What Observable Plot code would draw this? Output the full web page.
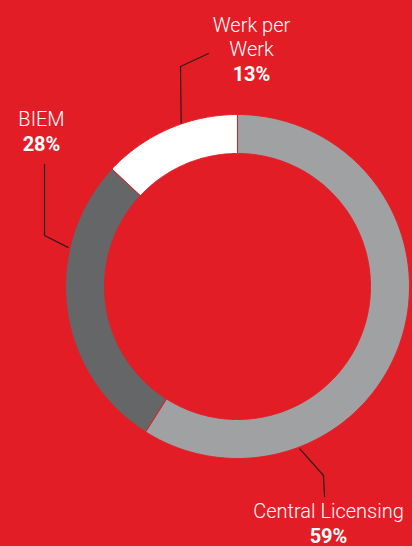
<!DOCTYPE html>
<html>
<head>
<meta charset="utf-8">
<script src="https://cdn.jsdelivr.net/npm/d3@7"></script>
<script src="https://cdn.jsdelivr.net/npm/@observablehq/plot@0.6"></script>
<style>
  html, body { margin: 0; padding: 0; background: #e31d25; }
  #chart svg { display: block; }
</style>
</head>
<body>
<div id="chart"></div>
<script>
// Data
const categories = ["Central Licensing", "BIEM", "Werk per Werk"];
const shares = [59, 28, 13];
const labelLines = [["Central Licensing"], ["BIEM"], ["Werk per", "Werk"]];
const colors = ["#a0a1a3", "#656667", "#ffffff"];

// Layout
const W = 412, H = 546;
const cx = 237, cy = 286, rOuter = 172, rInner = 133;
const pt = (angDeg, r) => {
  const a = angDeg * Math.PI / 180;
  return [cx + r * Math.sin(a), cy - r * Math.cos(a)];
};

// Build annular sectors (angles clockwise from 12 o'clock)
const total = d3.sum(shares);
const polys = [];
let acc = 0;
categories.forEach((c, i) => {
  const a0 = acc / total * 360, a1 = (acc + shares[i]) / total * 360;
  acc += shares[i];
  const n = Math.max(2, Math.ceil((a1 - a0) / 0.5));
  for (let k = 0; k <= n; k++) {
    const [x, y] = pt(a0 + (a1 - a0) * k / n, rOuter);
    polys.push({cat: c, x, y});
  }
  for (let k = n; k >= 0; k--) {
    const [x, y] = pt(a0 + (a1 - a0) * k / n, rInner);
    polys.push({cat: c, x, y});
  }
});

// Label anchors and leader lines (layout annotations)
const labelPos = [
  {x: 328, y: 517},  // Central Licensing
  {x: 41, y: 125},   // BIEM
  {x: 251, y: 31}    // Werk per Werk
];
const lineGap = 24;
const leaders = [
  [pt(159, rOuter + 2), [323, 475], [324, 496]],
  [pt(283, rOuter + 2), [44, 235], [44, 164]],
  [pt(341, rOuter + 1), [180, 66], [208, 53]]
];

const textRows = [];
const pctRows = [];
categories.forEach((c, i) => {
  labelLines[i].forEach((t, j) => textRows.push({t, x: labelPos[i].x, y: labelPos[i].y + j * lineGap}));
  pctRows.push({t: shares[i] + "%", x: labelPos[i].x, y: labelPos[i].y + labelLines[i].length * lineGap + 1});
});
const leaderRows = leaders.flatMap((l, i) => l.map(([x, y]) => ({id: i, x, y})));

const chart = Plot.plot({
  width: W, height: H,
  margin: 0,
  x: {domain: [0, W], range: [0, W], axis: null},
  y: {domain: [0, H], range: [0, H], axis: null},
  color: {domain: categories, range: colors},
  style: {background: "#e31d25", overflow: "visible"},
  marks: [
    Plot.line(polys, {x: "x", y: "y", z: "cat", fill: "cat", stroke: "#e31d25", strokeWidth: 1, curve: "linear-closed"}),
    Plot.line(leaderRows, {x: "x", y: "y", z: "id", stroke: "#2b1c1e", strokeWidth: 1.2, curve: "linear"}),
    Plot.text(textRows, {x: "x", y: "y", text: "t", fill: "white", fontSize: 20, fontWeight: 300, fontFamily: "Roboto", lineAnchor: "bottom", textAnchor: "middle", letterSpacing: 1}),
    Plot.text(pctRows, {x: "x", y: "y", text: "t", fill: "white", fontSize: 20, fontWeight: "bold", fontFamily: "Roboto", lineAnchor: "bottom", textAnchor: "middle", letterSpacing: 0.4})
  ]
});
document.getElementById("chart").appendChild(chart);
</script>
</body>
</html>
